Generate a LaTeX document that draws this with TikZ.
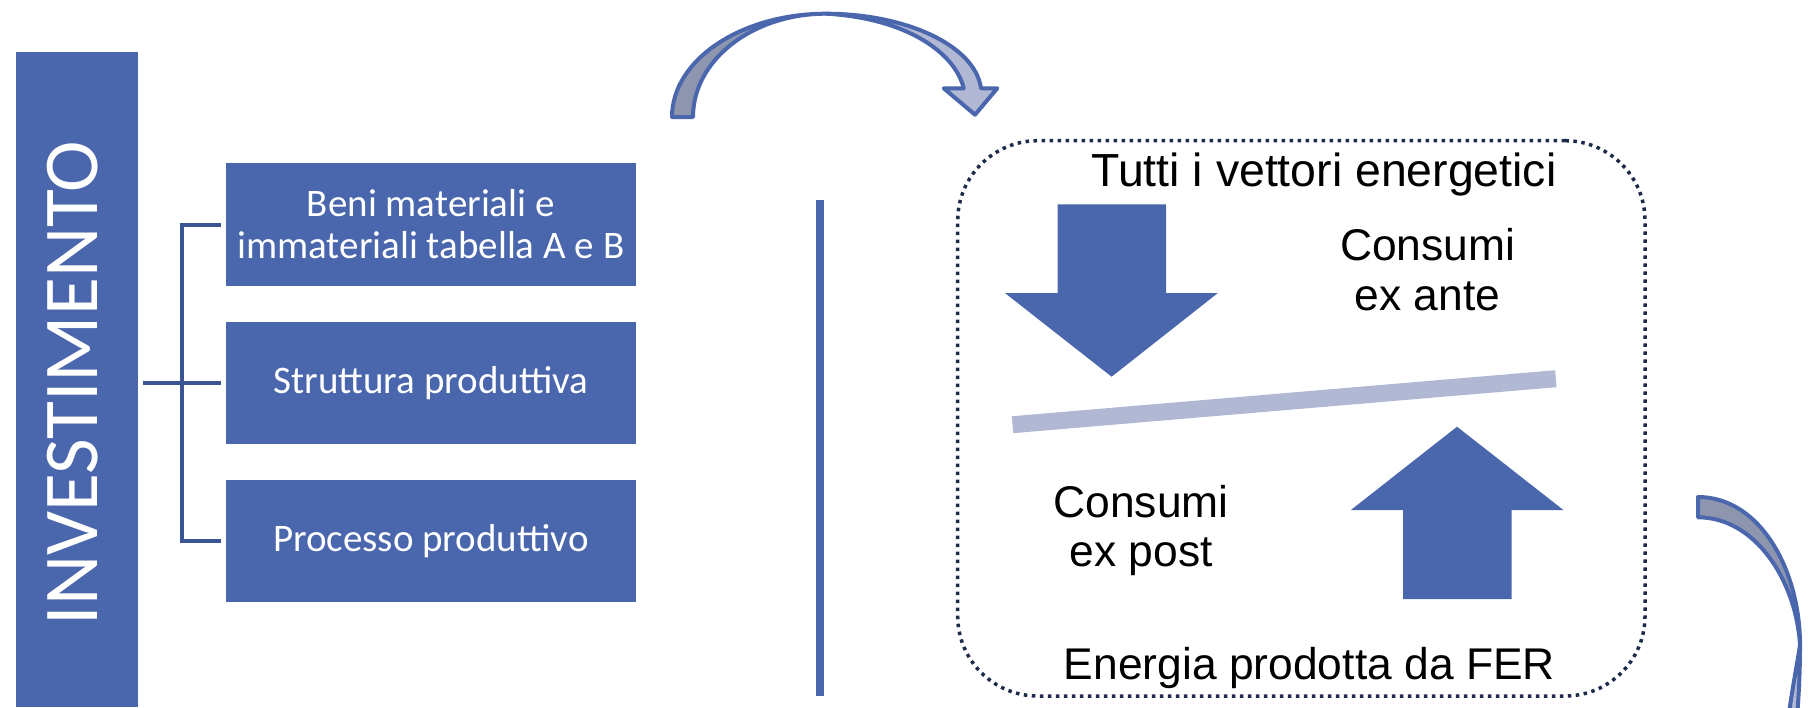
\documentclass[tikz,border=0pt]{standalone}
\usepackage{fontspec}
\setmainfont{Carlito}
\newfontfamily\panelfont{Liberation Sans}
\usetikzlibrary{calc}
\definecolor{acc}{HTML}{4A66AC}
\definecolor{brk}{HTML}{3B5494}
\definecolor{dots}{HTML}{1E2A4A}
\definecolor{pale}{HTML}{B0B8D4}
\definecolor{shade}{HTML}{8E96AF}
\begin{document}
\begin{tikzpicture}[x=0.5pt,y=-0.5pt,
  itembox/.style={fill=acc, text=white, minimum width=205.15pt, minimum height=61.2pt,
    inner sep=0pt, align=center, font=\fontsize{19.5}{21}\selectfont},
  bracketline/.style={draw=brk, line width=2pt},
  paneltext/.style={anchor=base, inner sep=0pt, text=black},
  bigtext/.style={paneltext, font=\panelfont\fontsize{23.2}{26}\selectfont},
  midtext/.style={paneltext, font=\panelfont\fontsize{22.2}{25}\selectfont},
  blockarrow/.style={fill=acc},
  curvedarrow/.style={draw=acc, line width=2pt, line join=round}]

\useasboundingbox (0,0) rectangle (1818,707);

% vertical title bar
\node[fill=acc, minimum width=61pt, minimum height=327.5pt, inner sep=0pt] (invest) at (77,379.5) {};
\node[rotate=90, text=white, inner sep=0pt, font=\fontsize{38.8}{40}\selectfont] (investlabel) at (73,383) {INVESTIMENTO};

% the three items
\node[itembox] (b1) at (430.85,224.5) {Beni materiali e\\immateriali tabella A e B};
\node[itembox] (b2) at (430.85,382.7) {Struttura produttiva};
\node[itembox] (b3) at (430.85,541) {Processo produttivo};

% bracket joining the bar to the items
\coordinate (spine) at (181.7,0);
\draw[bracketline] ($(invest.east |- b2.west)+(4.7,0)$) -- ($(b2.west)+(-4.7,0)$);
\draw[bracketline] ($(b1.west)+(-4.7,0)$) -| (spine |- b3.west) -- ($(b3.west)+(-4.7,0)$);

% divider
\coordinate (divtop) at (820,200);
\coordinate (divbot) at (820,696);
\draw[acc, line width=4pt] (divtop) -- (divbot);

% energy balance panel
\node[draw=dots, line width=1.75pt, dash pattern=on 1.75pt off 2.25pt, rounded corners=40pt,
  minimum width=343.65pt, minimum height=277.65pt, inner sep=0pt] (panel) at (1301.35,418.35) {};

\node[bigtext] (tutti) at (1324,186.7) {Tutti i vettori energetici};
\node[midtext] (exante1) at (1427.6,260) {Consumi};
\node[midtext] (exante2) at (1427.6,310.7) {ex ante};
\node[midtext] (expost1) at (1141,517.7) {Consumi};
\node[midtext] (expost2) at (1141,566.7) {ex post};
\node[bigtext, font=\panelfont\fontsize{22.2}{26}\selectfont] (fer) at (1309.4,679.3) {Energia prodotta da FER};

% down and up block arrows
\fill[blockarrow] (1057.6,204.3) -- (1166,204.3) -- (1166,293) -- (1217.9,293)
  -- (1111.6,376.7) -- (1004.9,293) -- (1057.6,293) -- cycle;
\fill[blockarrow] (1457,426.7) -- (1563.4,510) -- (1511.6,510) -- (1511.6,599)
  -- (1403,599) -- (1403,510) -- (1350.9,510) -- cycle;

% balance beam
\draw[pale, line width=8.5pt] (1012.5,424.7) -- (1555.8,378.7);

% curved arrow over the top
\filldraw[curvedarrow, fill=shade] (672,117) .. controls (672,60) and (741,13.7) .. (826,13.7)
  .. controls (752.5,13.7) and (693,60) .. (693,117) -- cycle;
\filldraw[curvedarrow, fill=pale] (826,13.7) .. controls (905,13.7) and (975,45) .. (981,88.3)
  -- (997.3,88.3) -- (975,114.7) -- (943.7,88.3) -- (963.7,88.3)
  .. controls (955,52) and (905,18) .. (826,13.7) -- cycle;

% curved arrow leaving on the right
\begin{scope}
  \clip (0,0) rectangle (1818,707);
  \filldraw[curvedarrow, fill=shade] (1698,497) .. controls (1760,497) and (1800,570) .. (1800,645)
    .. controls (1796,580) and (1755,517.3) .. (1698,517.3) -- cycle;
  \filldraw[curvedarrow, fill=pale] (1800,645) .. controls (1800,670) and (1799,690) .. (1797,720)
    -- (1788,720) .. controls (1792,690) and (1797,665) .. (1800,645) -- cycle;
\end{scope}
\end{tikzpicture}
\end{document}
